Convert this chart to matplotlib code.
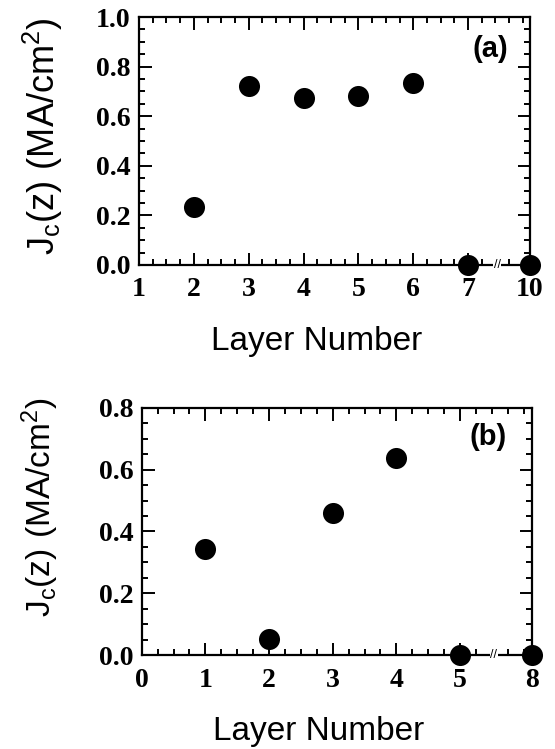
import matplotlib
matplotlib.use("Agg")
import matplotlib.pyplot as plt
from matplotlib.ticker import MultipleLocator, FixedLocator

# ---- data ----
layers_a = [2, 3, 4, 5, 6, 7, 10]
jc_a = [0.234, 0.722, 0.675, 0.681, 0.733, 0.0, 0.0]
xticks_a = [1, 2, 3, 4, 5, 6, 7, 10]

layers_b = [1, 2, 3, 4, 5, 8]
jc_b = [0.344, 0.051, 0.460, 0.637, 0.0, 0.0]
xticks_b = [0, 1, 2, 3, 4, 5, 8]

ylabel = r"$\mathregular{J_c(z)\ (MA/cm^2)}$"
xlabel = "Layer Number"

plt.rcParams["mathtext.fontset"] = "custom"
plt.rcParams["mathtext.rm"] = "Liberation Sans"
plt.rcParams["font.family"] = "Liberation Sans"

BREAK_GAP = 1.13  # visual width of broken segment


def make_pos(brk):
    def pos(v):
        return v if v <= brk else brk + BREAK_GAP
    return pos


fig = plt.figure(figsize=(5.55, 7.49), dpi=100)

panels = [
    dict(rect=[0.2505, 0.6462, 0.7045, 0.3311], layers=layers_a, jc=jc_a,
         ticks=xticks_a, brk=7, xmin=1, ymax=1.0, tag="(a)",
         tagpos=(0.898, 0.871), ylab=(-0.245, 0.52), ylfs=26),
    dict(rect=[0.2553, 0.1255, 0.7032, 0.3298], layers=layers_b, jc=jc_b,
         ticks=xticks_b, brk=5, xmin=0, ymax=0.8, tag="(b)",
         tagpos=(0.888, 0.883), ylab=(-0.26, 0.60), ylfs=24),
]

for p in panels:
    ax = fig.add_axes(p["rect"])
    pos = make_pos(p["brk"])
    xs = [pos(v) for v in p["layers"]]
    ax.scatter(xs, p["jc"], s=230, color="black", zorder=5, clip_on=False,
               linewidths=0)
    xmax = p["brk"] + BREAK_GAP
    ax.set_xlim(p["xmin"], xmax)
    ax.set_ylim(0, p["ymax"])
    ax.xaxis.set_major_locator(FixedLocator([pos(t) for t in p["ticks"]]))
    ax.set_xticklabels([str(t) for t in p["ticks"]])
    ax.xaxis.set_minor_locator(MultipleLocator(0.25))
    ax.yaxis.set_major_locator(MultipleLocator(0.2))
    ax.yaxis.set_minor_locator(MultipleLocator(0.05))
    ax.set_yticklabels([f"{v:.1f}" for v in ax.get_yticks()])
    ax.tick_params(which="both", direction="in", top=True, right=True,
                   width=1.4)
    ax.tick_params(which="major", length=9)
    ax.tick_params(axis="y", which="major", pad=6)
    ax.tick_params(axis="x", which="major", pad=9)
    ax.tick_params(which="minor", length=4.5)
    for lab in ax.get_xticklabels() + ax.get_yticklabels():
        lab.set_fontfamily("Liberation Serif")
        lab.set_fontweight("bold")
        lab.set_fontsize(20)
    for sp in ax.spines.values():
        sp.set_linewidth(1.6)
    ax.set_xlabel(xlabel, fontsize=24)
    ax.xaxis.set_label_coords(0.453, -0.31)
    ax.xaxis.label.set_va("center")
    ax.set_ylabel(ylabel, fontsize=p["ylfs"])
    ax.yaxis.set_label_coords(*p["ylab"])
    ax.yaxis.label.set_va("center")
    ax.text(p["tagpos"][0], p["tagpos"][1], p["tag"], transform=ax.transAxes,
            fontsize=21, fontweight="bold", ha="center", va="center")
    # axis break marks
    ax.text(p["brk"] + 0.53, 0, "//", fontsize=9, ha="center", va="center",
            color="black", zorder=6, clip_on=False,
            bbox=dict(boxstyle="square,pad=0.05", fc="white", ec="none"))

fig.savefig("out.png", dpi=100)
